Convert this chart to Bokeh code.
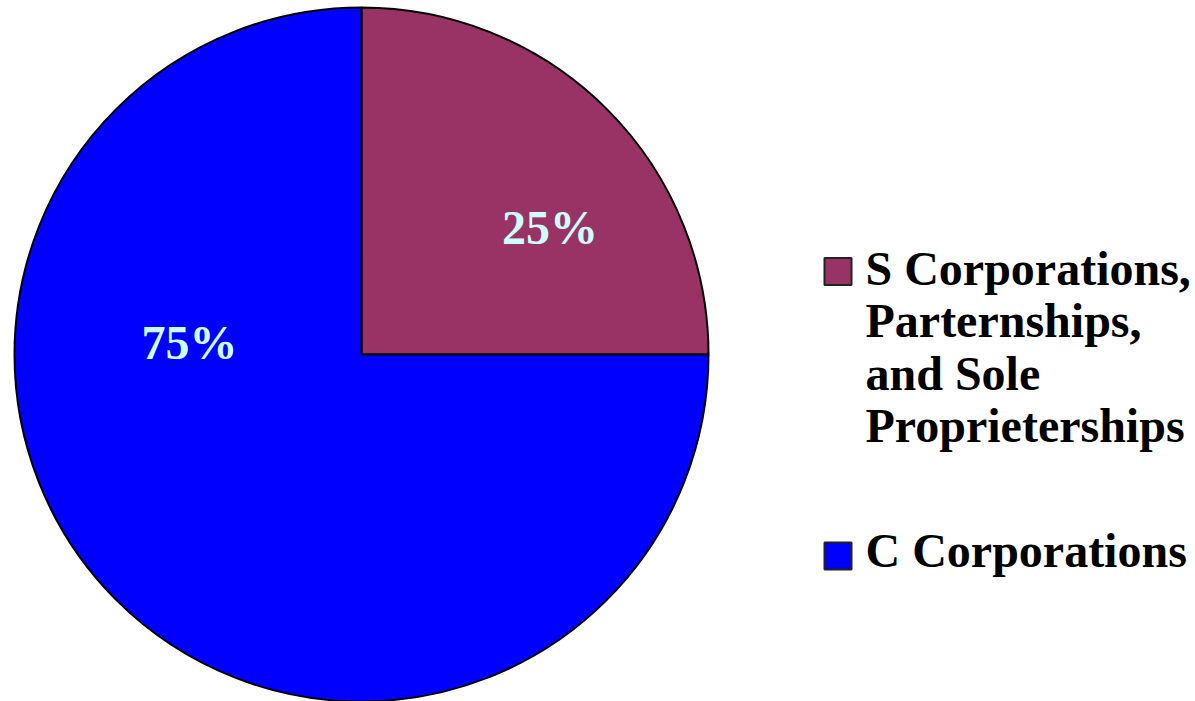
import math
from bokeh.plotting import figure
from bokeh.models import Range1d, ColumnDataSource
from bokeh.core.properties import value
from bokeh.embed import file_html
from bokeh.resources import INLINE

# ---- data ----
categories = ["S Corporations,\nParternships,\nand Sole\nProprieterships", "C Corporations"]
values = [25, 75]
colors = ["#993366", "#0000FF"]

# ---- layout / style ----
W, H = 1195, 701
CX, CY, R = 361, H - 354, 347
FONT = value("Liberation Serif")
FS = "48px"
SHIFT = 18  # baseline correction (px)
label_pos = [(188.5, 109), (-172, -6)]  # label baseline offsets from centre (px)

p = figure(width=W, height=H, x_range=Range1d(0, W), y_range=Range1d(0, H),
           output_backend="svg", toolbar_location=None, min_border=0,
           x_axis_location=None, y_axis_location=None)
p.grid.visible = False
p.outline_line_color = None
p.background_fill_color = "white"

total = float(sum(values))
starts, ends = [], []
ang = math.pi / 2
for v in values:
    sweep = 2 * math.pi * v / total
    ends.append(ang)
    starts.append(ang - sweep)
    ang -= sweep

src = ColumnDataSource(dict(start=starts, end=ends, color=colors))
p.wedge(x=CX, y=CY, radius=R, start_angle="start", end_angle="end",
        fill_color="color", line_color="black", line_width=2, source=src)

# percentage labels
lx = [CX + dx for dx, dy in label_pos]
ly = [CY + dy + SHIFT for dx, dy in label_pos]
p.text(x=lx, y=ly, text=[f"{v}%" for v in values], text_font=FONT,
       text_font_style="bold", text_font_size=FS, text_color="#CCFFFF",
       text_align="center", text_baseline="alphabetic")

# legend
sw_x = 837.5
sw_y = [H - 271, H - 555.5]
p.rect(x=[sw_x] * 2, y=sw_y, width=27, height=27, width_units="screen",
       height_units="screen", fill_color=colors, line_color="#222222", line_width=2)

first_base = [H - 286, H - 568]
tx, ty, tt = [], [], []
for cat, b in zip(categories, first_base):
    for i, line in enumerate(cat.split("\n")):
        tx.append(865)
        ty.append(b - i * 52.3 + SHIFT)
        tt.append(line)
p.text(x=tx, y=ty, text=tt, text_font=FONT, text_font_style="bold",
       text_font_size=FS, text_color="black", text_align="left",
       text_baseline="alphabetic")

open("out.html", "w").write(file_html(p, INLINE))
